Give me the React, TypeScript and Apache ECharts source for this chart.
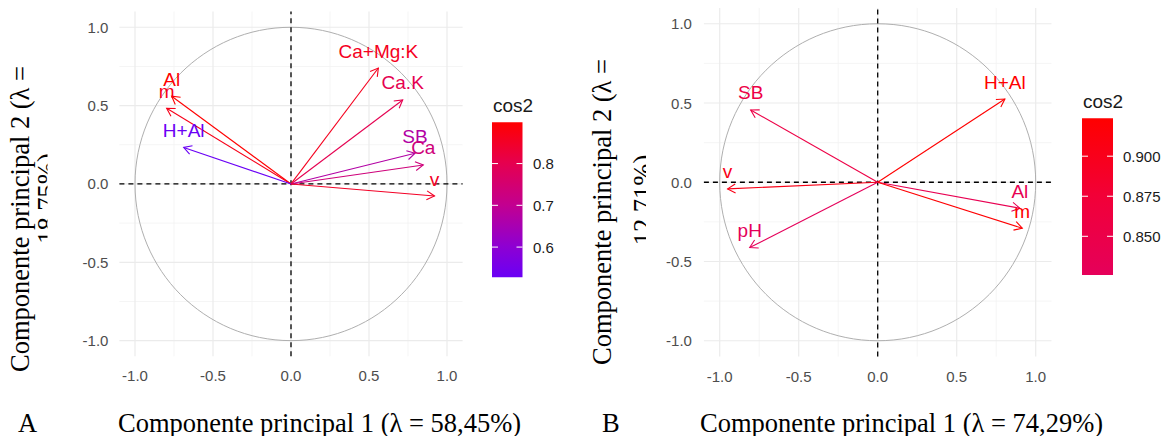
import React, { useEffect, useRef } from 'react';
import * as echarts from 'echarts';

// ---------- data ----------
const varsA = ['Ca+Mg:K', 'Ca.K', 'Al', 'm', 'H+Al', 'SB', 'Ca', 'v'];
const pc1A = [0.56, 0.716, -0.765, -0.797, -0.688, 0.795, 0.848, 0.92];
const pc2A = [0.74, 0.536, 0.56, 0.483, 0.233, 0.196, 0.121, -0.077];

const varsB = ['SB', 'H+Al', 'v', 'Al', 'm', 'pH'];
const pc1B = [-0.804, 0.805, -0.95, 0.9, 0.915, -0.81];
const pc2B = [0.456, 0.525, -0.042, -0.164, -0.29, -0.412];

const majorTicks = [-1, -0.5, 0, 0.5, 1];
const minorTicks = [-0.75, -0.25, 0.25, 0.75];
const axisMin = -1.1;
const axisMax = 1.1;
const legendTicksA = [0.6, 0.7, 0.8];
const legendTicksB = [0.85, 0.875, 0.9];
const legendDigitsA = 1;
const legendDigitsB = 3;

const xTitleA = 'Componente principal 1 (λ = 58,45%)';
const xTitleB = 'Componente principal 1 (λ = 74,29%)';
const yTitle1 = 'Componente principal 2 (λ =';
const yTitle2A = '18,75%)';
const yTitle2B = '12,71%)';

// ---------- styles ----------
const gradA: [number, string][] = [[0, '#6A00F5'], [0.2, '#8E00D2'], [0.47, '#C3008F'], [0.74, '#E6004E'], [1, '#FF0000']];
const gradB: [number, string][] = [[0, '#E5005A'], [0.5, '#F20038'], [1, '#FF0000']];
const SANS = '"Liberation Sans", Arial, sans-serif';
const SERIF = '"Liberation Serif", "Times New Roman", serif';
const TITLE_SIZE = 26.5;

function hexToRgb(h: string) {
  const n = parseInt(h.slice(1), 16);
  return [(n >> 16) & 255, (n >> 8) & 255, n & 255];
}
function interp(grad: [number, string][], t: number) {
  t = Math.max(0, Math.min(1, t));
  for (let i = 1; i < grad.length; i++) {
    if (t <= grad[i][0]) {
      const [t0, c0] = grad[i - 1];
      const [t1, c1] = grad[i];
      const f = (t - t0) / (t1 - t0 || 1);
      const a = hexToRgb(c0), b = hexToRgb(c1);
      const r = a.map((v, k) => Math.round(v + (b[k] - v) * f));
      return `rgb(${r[0]},${r[1]},${r[2]})`;
    }
  }
  return grad[grad.length - 1][1];
}

type Panel = {
  names: string[]; xs: number[]; ys: number[]; grad: [number, string][];
  grid: { left: number; top: number; width: number; height: number };
  bar: { x: number; top: number; h: number; w: number; titleY: number; labelX: number };
  ticks: number[]; digits: number; yMargin: number;
};

const panels: Panel[] = [
  {
    names: varsA, xs: pc1A, ys: pc2A, grad: gradA,
    grid: { left: 119.4, top: 11.6, width: 343.2, height: 344.7 },
    bar: { x: 492, top: 122.3, h: 155, w: 30.5, titleY: 105, labelX: 533 },
    ticks: legendTicksA, digits: legendDigitsA, yMargin: 11,
  },
  {
    names: varsB, xs: pc1B, ys: pc2B, grad: gradB,
    grid: { left: 703.9, top: 7.9, width: 347.6, height: 348.7 },
    bar: { x: 1082, top: 118.3, h: 156.7, w: 31, titleY: 101, labelX: 1123 },
    ticks: legendTicksB, digits: legendDigitsB, yMargin: 12,
  },
];

function buildOption() {
  const series: any[] = [];
  const graphic: any[] = [];
  const xAxis: any[] = [];
  const yAxis: any[] = [];
  const grid: any[] = [];
  const labelStyle = { color: '#4D4D4D', fontSize: 15, fontFamily: SANS, hideOverlap: false };

  panels.forEach((p, gi) => {
    grid.push({ ...p.grid, containLabel: false, outerBoundsMode: 'none' });
    xAxis.push({
      type: 'value', gridIndex: gi, min: axisMin, max: axisMax,
      axisLine: { show: false }, axisTick: { show: false }, splitLine: { show: false },
      axisLabel: { ...labelStyle, customValues: majorTicks, margin: 12, formatter: (v: number) => v.toFixed(1) },
    });
    yAxis.push({
      type: 'value', gridIndex: gi, min: axisMin, max: axisMax,
      axisLine: { show: false }, axisTick: { show: false }, splitLine: { show: false },
      axisLabel: { ...labelStyle, customValues: majorTicks, margin: p.yMargin, formatter: (v: number) => v.toFixed(1) },
    });

    const cos2 = p.xs.map((x, i) => x * x + p.ys[i] * p.ys[i]);
    const vmin = Math.min(...cos2), vmax = Math.max(...cos2);
    const cols = cos2.map((c) => interp(p.grad, (c - vmin) / (vmax - vmin)));

    // grid lines
    const gridData = [...minorTicks.map((v) => [v, 0]), ...majorTicks.map((v) => [v, 1])];
    series.push({
      type: 'custom', xAxisIndex: gi, yAxisIndex: gi, z: 1, silent: true, clip: false,
      data: gridData,
      renderItem: (params: any, api: any) => {
        const v = api.value(0);
        const major = api.value(1) === 1;
        const a = api.coord([v, axisMin]), b = api.coord([v, axisMax]);
        const c = api.coord([axisMin, v]), d = api.coord([axisMax, v]);
        const style = { stroke: major ? '#EBEBEB' : '#F3F3F3', lineWidth: major ? 1.2 : 0.8 };
        return {
          type: 'group', children: [
            { type: 'line', shape: { x1: a[0], y1: a[1], x2: b[0], y2: b[1] }, style },
            { type: 'line', shape: { x1: c[0], y1: c[1], x2: d[0], y2: d[1] }, style },
          ],
        };
      },
    });
    // circle
    series.push({
      type: 'custom', xAxisIndex: gi, yAxisIndex: gi, z: 2, silent: true, clip: false,
      data: [[0, 0]],
      renderItem: (params: any, api: any) => {
        const o = api.coord([0, 0]);
        const s = api.size([1, 1]);
        return { type: 'ellipse', shape: { cx: o[0], cy: o[1], rx: s[0], ry: s[1] }, style: { stroke: '#AFAFAF', fill: 'none', lineWidth: 1 } };
      },
    });
    // zero lines
    series.push({
      type: 'custom', xAxisIndex: gi, yAxisIndex: gi, z: 3, silent: true, clip: false,
      data: [[0, 0]],
      renderItem: (params: any, api: any) => {
        const a = api.coord([axisMin, 0]), b = api.coord([axisMax, 0]);
        const c = api.coord([0, axisMin]), d = api.coord([0, axisMax]);
        const style = { stroke: '#000', lineWidth: 1.3, lineDash: [5, 4] };
        return {
          type: 'group', children: [
            { type: 'line', shape: { x1: a[0], y1: a[1], x2: b[0], y2: b[1] }, style },
            { type: 'line', shape: { x1: c[0], y1: c[1], x2: d[0], y2: d[1] }, style },
          ],
        };
      },
    });
    // arrows
    series.push({
      type: 'custom', xAxisIndex: gi, yAxisIndex: gi, z: 4, silent: true, clip: false,
      data: p.xs.map((x, i) => [x, p.ys[i]]),
      renderItem: (params: any, api: any) => {
        const i = params.dataIndex;
        const o = api.coord([0, 0]);
        const t = api.coord([api.value(0), api.value(1)]);
        const ang = Math.atan2(t[1] - o[1], t[0] - o[0]);
        const L = 9, a = Math.PI / 6;
        const w1 = [t[0] - L * Math.cos(ang - a), t[1] - L * Math.sin(ang - a)];
        const w2 = [t[0] - L * Math.cos(ang + a), t[1] - L * Math.sin(ang + a)];
        const c = cols[i];
        return {
          type: 'group', children: [
            { type: 'line', shape: { x1: o[0], y1: o[1], x2: t[0], y2: t[1] }, style: { stroke: c, lineWidth: 1.1 } },
            { type: 'polyline', shape: { points: [w1, t, w2] }, style: { stroke: c, lineWidth: 1.1, fill: 'none' } },
            {
              type: 'text', x: t[0], y: t[1] - 17,
              style: { text: p.names[i], fill: c, fontSize: 19, fontFamily: SANS, textAlign: 'center', textVerticalAlign: 'middle' },
            },
          ],
        };
      },
    });

    // legend
    const b = p.bar;
    const bottom = b.top + b.h;
    graphic.push({
      type: 'text', x: b.x + 1, y: b.titleY,
      style: { text: 'cos2', fill: '#1A1A1A', fontSize: 19, fontFamily: SANS, textAlign: 'left', textVerticalAlign: 'middle' },
    });
    graphic.push({
      type: 'rect', shape: { x: b.x, y: b.top, width: b.w, height: b.h },
      style: {
        fill: new echarts.graphic.LinearGradient(0, 1, 0, 0, p.grad.map(([o, c]) => ({ offset: o, color: c }))),
      },
    });
    p.ticks.forEach((v) => {
      const y = bottom - ((v - vmin) / (vmax - vmin)) * b.h;
      graphic.push({ type: 'line', shape: { x1: b.x, y1: y, x2: b.x + 6, y2: y }, style: { stroke: '#fff', lineWidth: 1 } });
      graphic.push({ type: 'line', shape: { x1: b.x + b.w - 6, y1: y, x2: b.x + b.w, y2: y }, style: { stroke: '#fff', lineWidth: 1 } });
      graphic.push({
        type: 'text', x: b.labelX, y,
        style: { text: v.toFixed(p.digits), fill: '#1A1A1A', fontSize: 15, fontFamily: SANS, textAlign: 'left', textVerticalAlign: 'middle' },
      });
    });
  });

  // axis titles
  const serifText = (text: string, x: number, y: number, rot = 0, align = 'left') => ({
    type: 'text', x, y, rotation: rot, z: 10,
    style: { text, fill: '#000', fontSize: TITLE_SIZE, fontFamily: SERIF, textAlign: align, textVerticalAlign: 'middle' },
  });
  graphic.push(serifText('A', 18, 422.5));
  graphic.push(serifText(xTitleA, 118, 422.5));
  graphic.push(serifText('B', 602, 422.5));
  graphic.push(serifText(xTitleB, 700, 422.5));
  graphic.push(serifText(yTitle1, 20, 219, Math.PI / 2, 'center'));
  graphic.push(serifText(yTitle2A, 46.5, 198.5, Math.PI / 2, 'center'));
  graphic.push(serifText(yTitle1, 601.5, 212, Math.PI / 2, 'center'));
  graphic.push(serifText(yTitle2B, 643, 200, Math.PI / 2, 'center'));
  // masks that cut the second line of the y titles as in the reference
  graphic.push({ type: 'rect', z: 11, shape: { x: 47.5, y: 130, width: 25, height: 140 }, style: { fill: '#fff' } });
  graphic.push({ type: 'rect', z: 11, shape: { x: 646, y: 130, width: 16, height: 140 }, style: { fill: '#fff' } });

  return { animation: false, backgroundColor: '#fff', grid, xAxis, yAxis, series, graphic };
}

export default function App() {
  const ref = useRef<HTMLDivElement>(null);
  useEffect(() => {
    if (!ref.current) return;
    const chart = echarts.init(ref.current, undefined, { renderer: 'svg' });
    chart.setOption(buildOption() as any);
    return () => chart.dispose();
  }, []);
  return <div ref={ref} style={{ position: 'absolute', left: 0, top: 0, width: 1172, height: 436, background: '#fff' }} />;
}
